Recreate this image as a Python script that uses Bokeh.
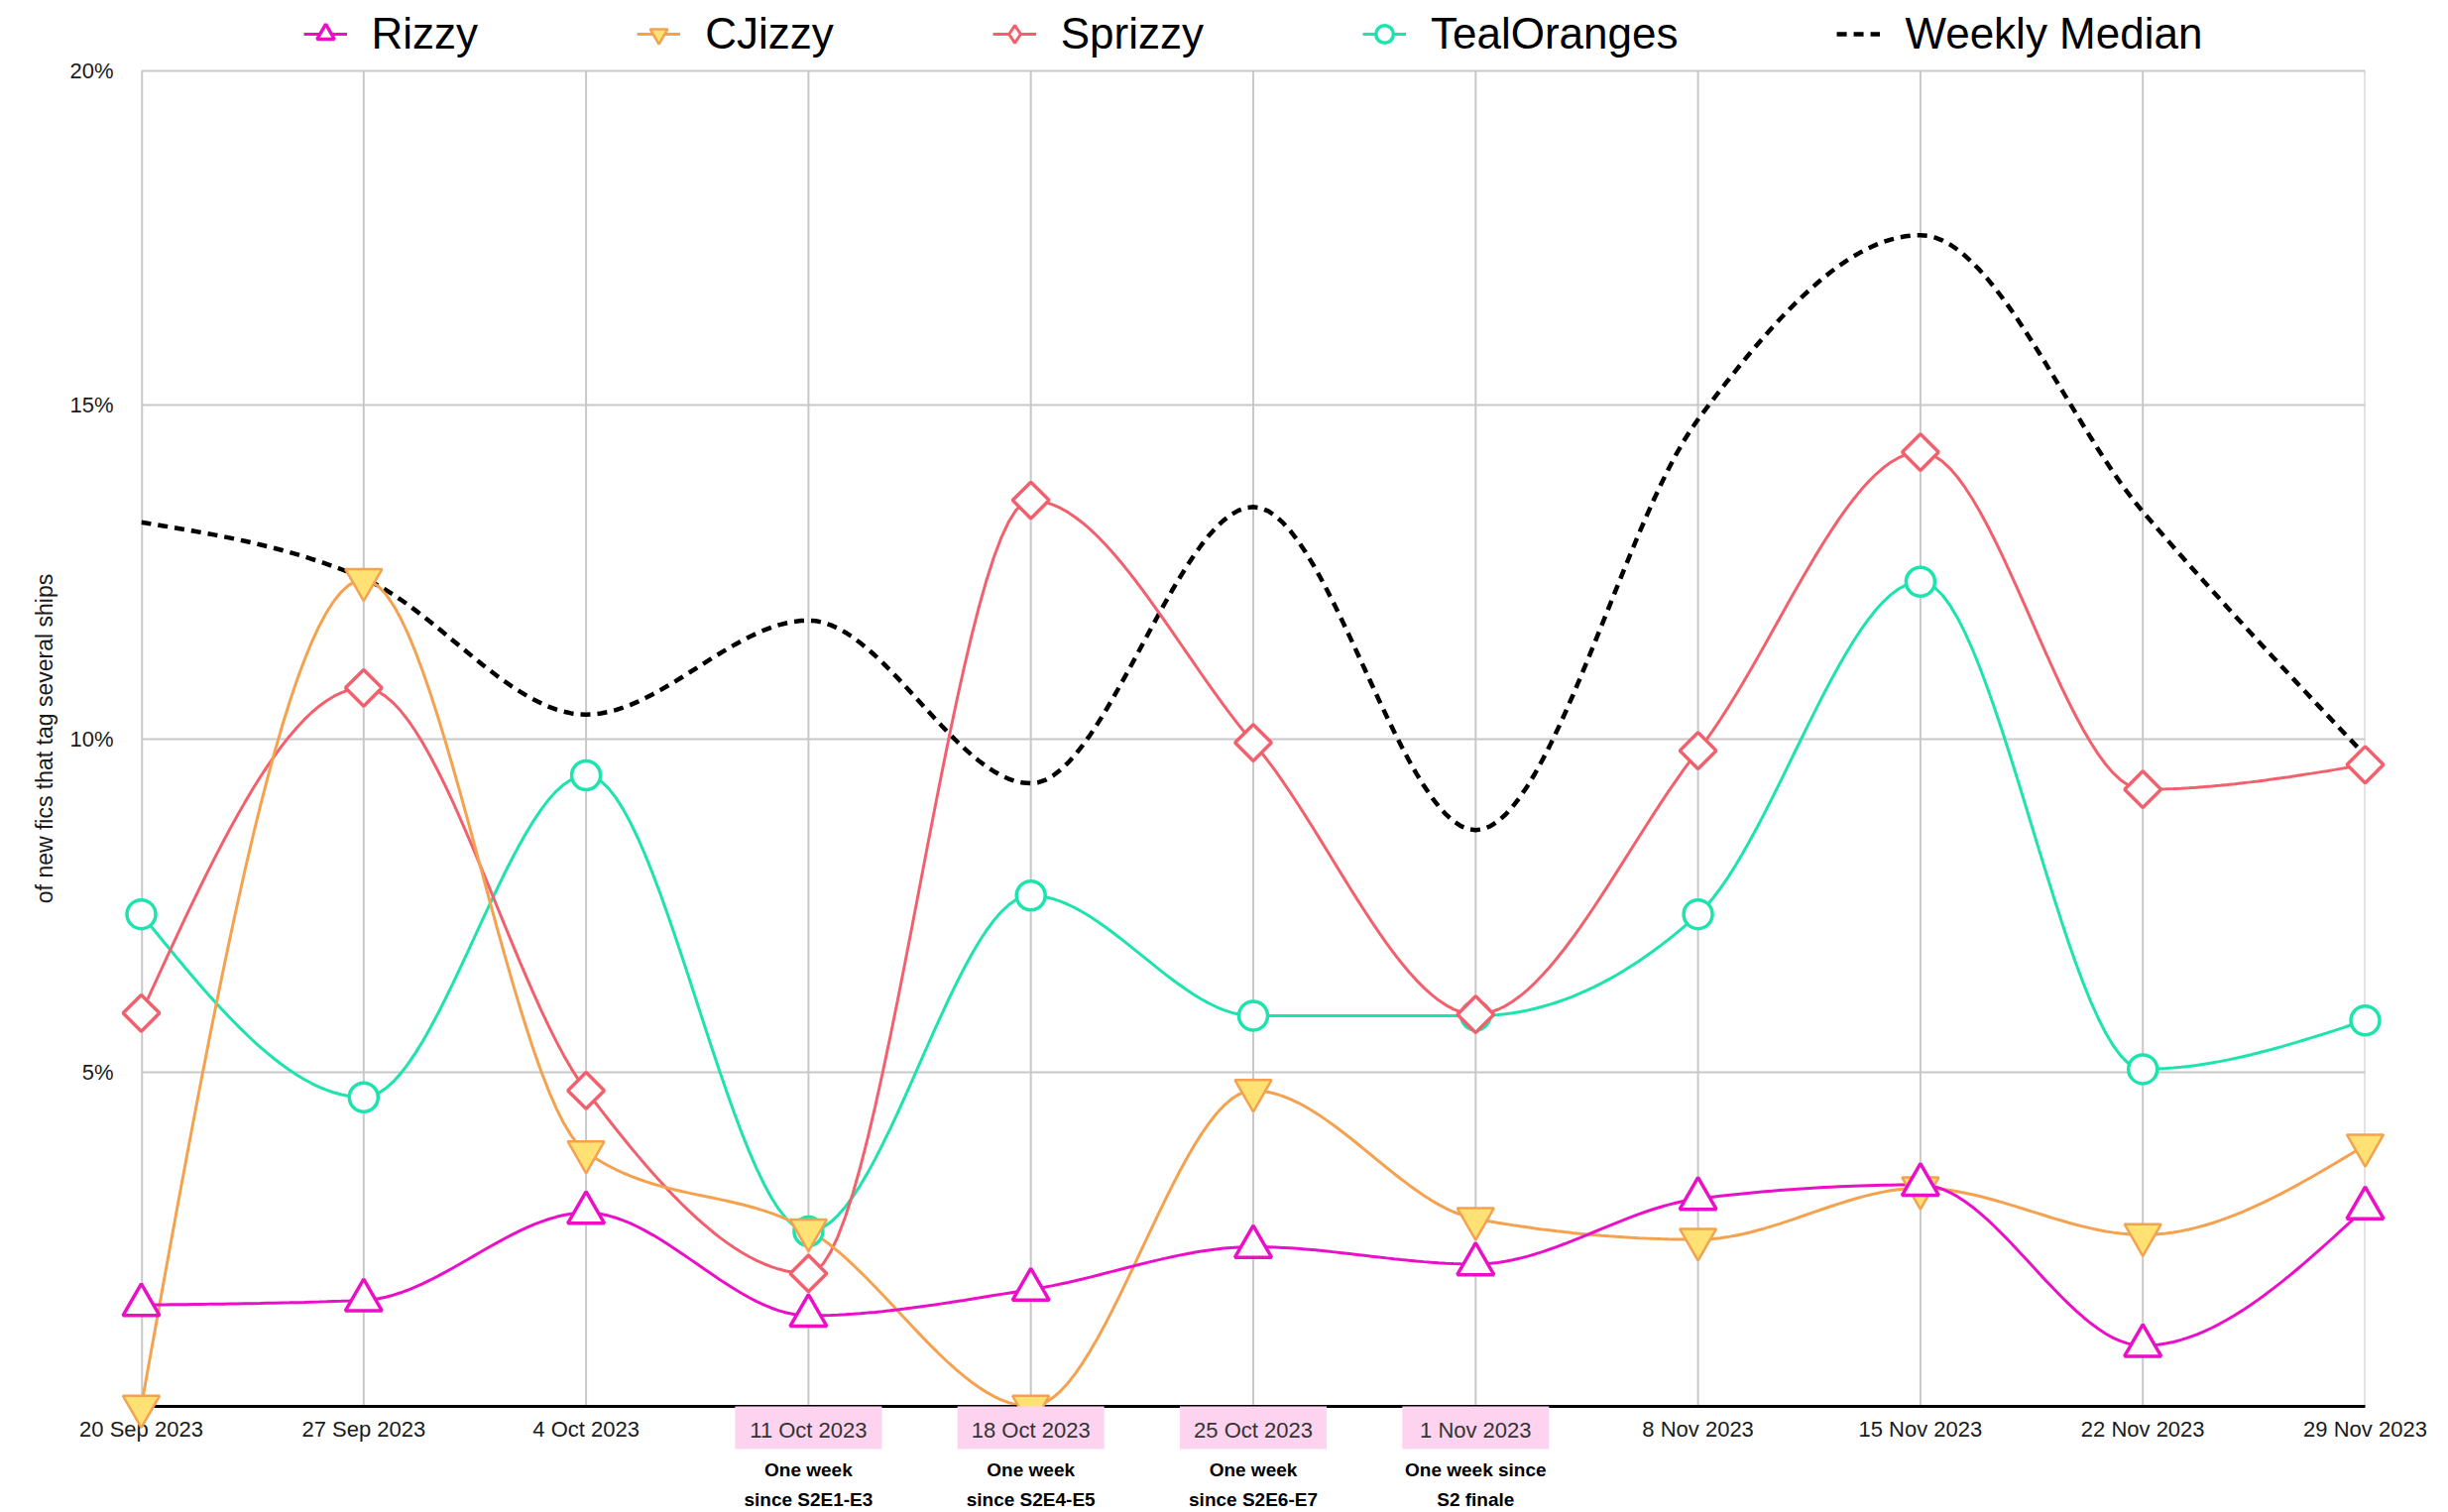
import numpy as np
from bokeh.plotting import figure
from bokeh.models import Range1d, FixedTicker, Legend, LegendItem
from bokeh.core.properties import value
from bokeh.embed import file_html
from bokeh.resources import INLINE

# ---------------- data ----------------
dates = ["20 Sep 2023", "27 Sep 2023", "4 Oct 2023", "11 Oct 2023", "18 Oct 2023",
         "25 Oct 2023", "1 Nov 2023", "8 Nov 2023", "15 Nov 2023", "22 Nov 2023",
         "29 Nov 2023"]
rizzy = [1.52, 1.59, 2.90, 1.36, 1.75, 2.39, 2.13, 3.11, 3.32, 0.91, 2.97]
cjizzy = [0.0, 12.38, 3.81, 2.64, 0.0, 4.73, 2.81, 2.50, 3.27, 2.57, 3.91]
sprizzy = [5.89, 10.76, 4.73, 1.99, 13.57, 9.94, 5.87, 9.82, 14.29, 9.24, 9.61]
teal_oranges = [7.37, 4.63, 9.45, 2.62, 7.65, 5.85, 5.85, 7.37, 12.35, 5.05, 5.78]
weekly_median = [13.24, 12.40, 10.36, 11.77, 9.33, 13.47, 8.63, 14.78, 17.54, 13.40, 9.75]
highlight_idx = [3, 4, 5, 6]
highlight_notes = ["One week\nsince S2E1-E3", "One week\nsince S2E4-E5",
                   "One week\nsince S2E6-E7", "One week since\nS2 finale"]
y_ticks = [0, 5, 10, 15, 20]
y_tick_labels = {0: "", 5: "5%", 10: "10%", 15: "15%", 20: "20%"}
y_title = "of new fics that tag several ships"

FONT = "Liberation Sans"

# ---------------- layout ----------------
W, H = 2465, 1525
B_LEFT, B_RIGHT, B_BOTTOM = 142, 80, 107
TOP_GAP = 71                     # room above the 20% line, inside the frame (legend)
Y_MAX = 20
PLOT_H = H - B_BOTTOM - TOP_GAP
PX = PLOT_H / Y_MAX              # pixels per percentage point (vertical)
N_DATES = len(dates)
PX_X = (W - B_LEFT - B_RIGHT) / (N_DATES - 1)   # pixels per week (horizontal)
Y_TOP = Y_MAX + TOP_GAP / PX
GRID = "#c8c8c8"


def monotone_curve(xs, ys, n=30):
    """Smooth path through the points (d3 curveMonotoneX)."""
    xs = np.asarray(xs, float)
    ys = np.asarray(ys, float)
    N = len(xs)
    h = np.diff(xs)
    s = np.diff(ys) / h
    t = np.zeros(N)
    sg = lambda v: -1.0 if v < 0 else 1.0
    for i in range(1, N - 1):
        h0, h1 = h[i - 1], h[i]
        s0, s1 = s[i - 1], s[i]
        pp = (s0 * h1 + s1 * h0) / (h0 + h1)
        t[i] = (sg(s0) + sg(s1)) * min(abs(s0), abs(s1), 0.5 * abs(pp))
    t[0] = (3 * s[0] - t[1]) / 2
    t[-1] = (3 * s[-1] - t[-2]) / 2
    X, Y = [], []
    for i in range(N - 1):
        dx = (xs[i + 1] - xs[i]) / 3
        p0 = np.array([xs[i], ys[i]])
        p1 = np.array([xs[i] + dx, ys[i] + dx * t[i]])
        p2 = np.array([xs[i + 1] - dx, ys[i + 1] - dx * t[i + 1]])
        p3 = np.array([xs[i + 1], ys[i + 1]])
        u = np.linspace(0, 1, n, endpoint=(i == N - 2))[:, None]
        pts = ((1 - u) ** 3) * p0 + 3 * ((1 - u) ** 2) * u * p1 + 3 * (1 - u) * u ** 2 * p2 + u ** 3 * p3
        X.extend(pts[:, 0])
        Y.extend(pts[:, 1])
    return X, Y


x_idx = list(range(N_DATES))

p = figure(width=W, height=H,
           x_range=Range1d(0, N_DATES - 1), y_range=Range1d(0, Y_TOP),
           output_backend="svg", toolbar_location=None,
           min_border_left=B_LEFT, min_border_right=B_RIGHT,
           min_border_top=0, min_border_bottom=B_BOTTOM)
p.outline_line_color = None
p.background_fill_color = "white"
p.border_fill_color = "white"

# grids: horizontal via the grid, vertical as segments that stop at 20%
p.xgrid.visible = False
p.ygrid.ticker = FixedTicker(ticks=y_ticks)
p.ygrid.grid_line_color = GRID
p.ygrid.grid_line_width = 2
p.segment(x0=x_idx, y0=[0] * N_DATES, x1=x_idx, y1=[Y_MAX] * N_DATES,
          line_color=GRID, line_width=2, level="underlay")
p.segment(x0=[0], y0=[0], x1=[0], y1=[Y_MAX], line_color=GRID, line_width=3.5,
          level="underlay")

# x axis
xa = p.xaxis[0]
xa.ticker = FixedTicker(ticks=x_idx)
xa.major_label_overrides = {i: ("" if i in highlight_idx else d) for i, d in enumerate(dates)}
xa.major_label_text_font = FONT
xa.major_label_text_font_size = "22px"
xa.major_label_text_color = "#1a1a1a"
xa.major_label_standoff = 10
xa.major_tick_in = 0
xa.major_tick_out = 0
xa.minor_tick_in = 0
xa.minor_tick_out = 0
xa.axis_line_color = "black"
xa.axis_line_width = 3

# y axis
ya = p.yaxis[0]
ya.ticker = FixedTicker(ticks=y_ticks)
ya.major_label_overrides = y_tick_labels
ya.major_label_text_font = FONT
ya.major_label_text_font_size = "22px"
ya.major_label_text_color = "#1a1a1a"
ya.major_label_standoff = 28
ya.major_tick_in = 0
ya.major_tick_out = 0
ya.minor_tick_in = 0
ya.minor_tick_out = 0
ya.axis_line_color = None

# y-axis title, centred on the 0-20% band
p.text(x=[-98 / PX_X], y=[Y_MAX / 2], text=[y_title], angle=np.pi / 2,
       text_align="center", text_baseline="middle",
       text_font=value(FONT), text_font_size=value("23px"), text_color="#1a1a1a",
       level="overlay")

# series (drawn bottom to top)
series = [
    ("Weekly Median", weekly_median, "black", None, None),
    ("TealOranges", teal_oranges, "#1de3ad",
     dict(marker="circle", size=29, fill_color="white", line_width=3.5), None),
    ("Sprizzy", sprizzy, "#f2606e",
     dict(marker="square", size=26, angle=np.pi / 4, fill_color="white", line_width=3.5),
     dict(marker="diamond", size=26, fill_color="white", line_width=3)),
    ("CJizzy", cjizzy, "#f4a24f",
     dict(marker="inverted_triangle", size=37, fill_color="#ffe174", line_width=2.5), None),
    ("Rizzy", rizzy, "#ec0fc8",
     dict(marker="triangle", size=37, fill_color="white", line_width=3.5), None),
]

legend_map = {}
for name, vals, color, mk, legend_mk in series:
    cx, cy = monotone_curve(x_idx, vals)
    if mk is None:
        lr = p.line(cx, cy, line_color=color, line_width=4.5, line_dash="10 7")
        legend_map[name] = [lr]
    else:
        lr = p.line(cx, cy, line_color=color, line_width=3)
        sr = p.scatter(x_idx, vals, line_color=color, level="overlay", **mk)
        if legend_mk is not None:
            # legend-only swatch (diamond); NaN position so nothing is drawn in the plot
            dummy = p.scatter(x=[float("nan")], y=[float("nan")], line_color=color, **legend_mk)
            legend_map[name] = [lr, dummy]
        else:
            legend_map[name] = [lr, sr]

order = ["Rizzy", "CJizzy", "Sprizzy", "TealOranges", "Weekly Median"]
legend = Legend(items=[LegendItem(label=n, renderers=legend_map[n]) for n in order],
                orientation="horizontal", location="top_center",
                label_text_font=FONT, label_text_font_size="44px",
                label_text_color="black", label_height=50,
                glyph_width=44, glyph_height=44, label_standoff=25, spacing=160,
                padding=0, margin=9, border_line_color=None, background_fill_alpha=0)
p.add_layout(legend, "center")

# highlighted date labels (pink boxes) + notes under the axis
hl_dates = [dates[i] for i in highlight_idx]
n_hl = len(highlight_idx)
p.rect(x=highlight_idx, y=[-21.5 / PX] * n_hl, width=148, height=43,
       width_units="screen", height_units="screen",
       fill_color="#fdd3ef", line_color=None, level="overlay")
p.text(x=highlight_idx, y=[-24 / PX] * n_hl, text=hl_dates,
       text_align="center", text_baseline="middle",
       text_font=value(FONT), text_font_size=value("22px"), text_color="#333333",
       level="overlay")
p.text(x=highlight_idx, y=[-79 / PX] * n_hl, text=highlight_notes,
       text_align="center", text_baseline="middle",
       text_font=value(FONT), text_font_style="bold",
       text_font_size=value("19px"), text_color="black", text_line_height=1.4,
       level="overlay")

open("out.html", "w").write(file_html(p, INLINE))
